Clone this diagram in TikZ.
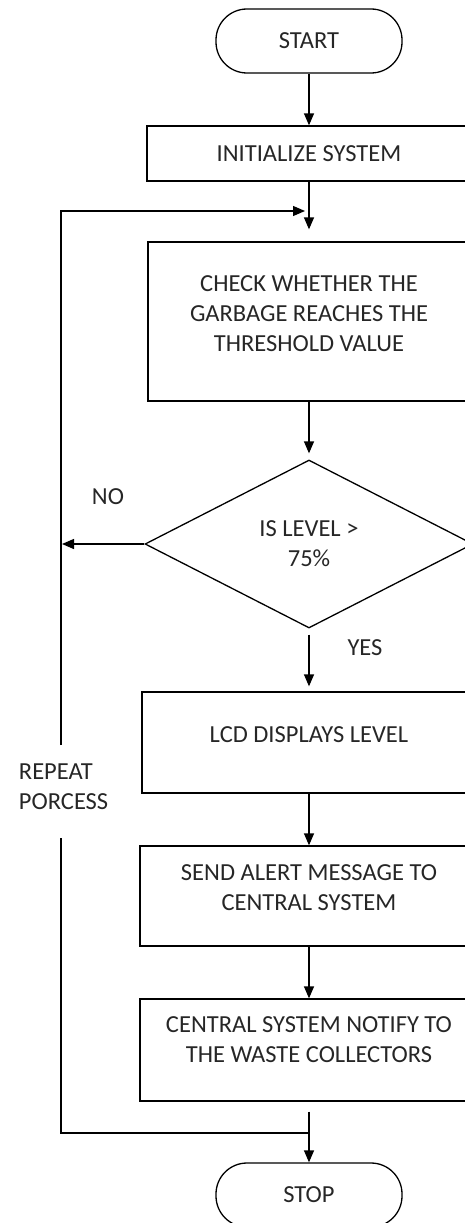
\documentclass[tikz,border=0pt]{standalone}
\usepackage{fontspec}
\setmainfont{Carlito}
\usetikzlibrary{shapes.geometric,arrows.meta}
\begin{document}
\begin{tikzpicture}[x=1pt,y=1pt,line width=1.3pt,
	every node/.style={font=\fontsize{24.5}{30}\selectfont,text=black!85},
	txt/.style={align=center},
	term/.style={draw,rounded corners=31pt,minimum width=186pt,minimum height=64pt},
	proc/.style={draw,minimum width=#1,inner sep=0pt},
	arr/.style={-{Triangle[length=12pt,width=10pt]}}]
	\useasboundingbox (0,0) rectangle (465,-1223);
	% flow boxes, right sides run past the page
	\node[term] (start) at (309,-41) {START};
	\node[proc=324pt,minimum height=55pt] (init) at (309,-153.5) {INITIALIZE SYSTEM};
	\node[proc=322pt,minimum height=159pt,label={[txt,yshift=8pt]center:CHECK WHETHER THE\\GARBAGE REACHES THE\\THRESHOLD VALUE}] (check) at (309,-321.5) {};
	\node[draw,diamond,minimum width=328pt,minimum height=168pt,inner sep=0pt,txt] (level) at (309,-544) {IS LEVEL >\\75\%};
	\node[proc=334pt,minimum height=101pt,label={[yshift=7.5pt]center:LCD DISPLAYS LEVEL}] (lcd) at (309,-742.5) {};
	\node[proc=338pt,minimum height=100pt,label={[txt,yshift=8pt]center:SEND ALERT MESSAGE TO\\CENTRAL SYSTEM}] (send) at (309,-896) {};
	\node[proc=338pt,minimum height=102pt,label={[txt,yshift=10pt]center:CENTRAL SYSTEM NOTIFY TO\\THE WASTE COLLECTORS}] (notify) at (309,-1050) {};
	\node[term] (stop) at (309,-1195) {STOP};
	% main line
	\draw[arr] (start) -- (init);
	\draw[arr,shorten >=12pt] (init) -- (check);
	\draw[arr,shorten >=6pt] (check) -- (level);
	\draw[arr,shorten <=6pt,shorten >=5pt] (level) -- (lcd);
	\foreach \a/\b in {lcd/send,send/notify}{
		\draw[arr] (\a) -- (\b);
	}
	\draw[arr,shorten <=10pt] (notify) -- (stop);
	% loop back
	\path (62,-544) coordinate (noend)
	(61,-745) coordinate (gaptop)
	(61,-838) coordinate (gapbot)
	(305,-211) coordinate (backin)
	(309,-1133) coordinate (merge);
	\draw[arr] (level.west) -- (noend);
	\draw (merge) -| (gapbot);
	\draw[arr] (gaptop) |- (backin);
	\node (no) at (108,-497) {NO};
	\node (yes) at (365,-648) {YES};
	\node[align=left,anchor=west] (repeat) at (15,-787) {REPEAT\\PORCESS};
\end{tikzpicture}
\end{document}
